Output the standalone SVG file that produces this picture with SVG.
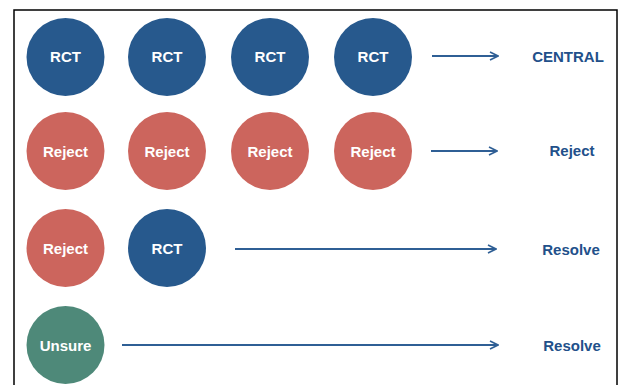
<svg xmlns="http://www.w3.org/2000/svg" width="618" height="385" viewBox="0 0 618 385">
<style>
.frame{fill:#fff;stroke:#000;stroke-width:1.5}
.blue{fill:#27598D}
.red{fill:#CC655D}
.green{fill:#4E8979}
.t{font-family:"Liberation Sans",Arial,sans-serif;font-weight:bold;font-size:15px;fill:#fff;text-anchor:middle;dominant-baseline:central}
.lbl{font-family:"Liberation Sans",Arial,sans-serif;font-weight:bold;font-size:15px;fill:#22508A;text-anchor:middle;dominant-baseline:central}
.conn line{stroke:#2F5F95;stroke-width:2;marker-end:url(#ah)}
</style>
<defs>
<marker id="ah" viewBox="0 0 10 10" refX="9" refY="5" markerWidth="5" markerHeight="5" markerUnits="strokeWidth" orient="auto">
<polyline points="1,1 9,5 1,9" fill="none" stroke="#2F5F95" stroke-width="1.6"/>
</marker>
</defs>
<rect width="618" height="385" fill="#fff"/>
<rect class="frame" x="14" y="10" width="603" height="390"/>
<g id="r1c1"><circle class="blue" cx="65.5" cy="57" r="39"/><text class="t" x="65.5" y="56">RCT</text></g>
<g id="r1c2"><circle class="blue" cx="167" cy="57" r="39"/><text class="t" x="167" y="56">RCT</text></g>
<g id="r1c3"><circle class="blue" cx="270" cy="57" r="39"/><text class="t" x="270" y="56">RCT</text></g>
<g id="r1c4"><circle class="blue" cx="373" cy="57" r="39"/><text class="t" x="373" y="56">RCT</text></g>
<g id="r2c1"><circle class="red" cx="65.5" cy="151" r="39"/><text class="t" x="65.5" y="151">Reject</text></g>
<g id="r2c2"><circle class="red" cx="167" cy="151" r="39"/><text class="t" x="167" y="151">Reject</text></g>
<g id="r2c3"><circle class="red" cx="270" cy="151" r="39"/><text class="t" x="270" y="151">Reject</text></g>
<g id="r2c4"><circle class="red" cx="373" cy="151" r="39"/><text class="t" x="373" y="151">Reject</text></g>
<g id="r3c1"><circle class="red" cx="65.5" cy="248" r="39"/><text class="t" x="65.5" y="248">Reject</text></g>
<g id="r3c2"><circle class="blue" cx="167" cy="248" r="39"/><text class="t" x="167" y="248">RCT</text></g>
<g id="r4c1"><circle class="green" cx="65.5" cy="345" r="39"/><text class="t" x="65.5" y="345">Unsure</text></g>
<g id="out1"><text class="lbl" x="568" y="56">CENTRAL</text></g>
<g id="out2"><text class="lbl" x="572" y="150">Reject</text></g>
<g id="out3"><text class="lbl" x="571" y="249">Resolve</text></g>
<g id="out4"><text class="lbl" x="572" y="345">Resolve</text></g>
<g class="conn">
<line x1="432" y1="56" x2="498" y2="56"/>
<line x1="431" y1="151" x2="497" y2="151"/>
<line x1="235" y1="249" x2="496" y2="249"/>
<line x1="122" y1="345" x2="498" y2="345"/>
</g>
</svg>
